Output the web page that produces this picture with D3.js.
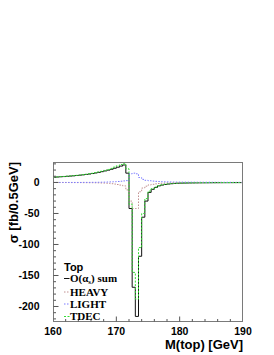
<!DOCTYPE html>
<html>
<head>
<meta charset="utf-8">
<script src="https://cdn.jsdelivr.net/npm/d3@7"></script>
<style>
  body { margin: 0; background: #fff; }
  svg { display: block; }
</style>
</head>
<body>
<div id="chart"></div>
<script>
// bins of 0.5 GeV from 160 to 190
const binLow = 160;
const binWidth = 0.5;

const sumVals = [8.5, 8.8, 9.2, 9.5, 9.9, 10.3, 10.7, 11.2, 11.7, 12.3,
  12.9, 13.6, 14.4, 15.3, 16.3, 17.4, 18.6, 19.9, 21.3, 22.9,
  24.6, 26.4, 28.2, 15, -42, -169, -216, -119, -56, -30,
  -16, -11, -8, -5.5, -4.2, -3.2, -2.5, -2.0, -1.6, -1.3,
  -1.1, -0.95, -0.85, -0.75, -0.7, -0.62, -0.56, -0.5, -0.46, -0.42,
  -0.38, -0.35, -0.32, -0.3, -0.28, -0.26, -0.24, -0.22, -0.2, -0.19];

const heavyVals = [-0.1, -0.1, -0.1, -0.1, -0.1, -0.2, -0.2, -0.2, -0.2, -0.3,
  -0.3, -0.4, -0.4, -0.5, -0.6, -0.8, -1.0, -1.4, -2.0, -2.6,
  -3.3, -4.2, -5.5, -12, -30, -42, -42, -15, -9, -6,
  -4, -3, -2.2, -1.7, -1.3, -1.0, -0.8, -0.65, -0.55, -0.45,
  -0.4, -0.35, -0.3, -0.27, -0.24, -0.22, -0.2, -0.18, -0.16, -0.15,
  -0.14, -0.13, -0.12, -0.11, -0.1, -0.1, -0.09, -0.09, -0.08, -0.08];

const lightVals = [0, 0, 0, 0, 0, 0, 0, 0, 0, 0.1,
  0.1, 0.1, 0.2, 0.2, 0.3, 0.4, 0.5, 0.7, 0.9, 1.2,
  1.6, 2.0, 2.5, 3, 14, 15, 14, 8, 5, 3.5,
  2.8, 2.2, 1.8, 1.5, 1.2, 1.0, 0.9, 0.8, 0.7, 0.6,
  0.55, 0.5, 0.45, 0.42, 0.4, 0.37, 0.35, 0.33, 0.31, 0.3,
  0.28, 0.27, 0.26, 0.25, 0.24, 0.23, 0.22, 0.21, 0.2, 0.2];

const tdecVals = [8.7, 9.0, 9.4, 9.7, 10.1, 10.5, 11.0, 11.5, 12.0, 12.6,
  13.2, 14.0, 14.8, 15.8, 16.9, 18.1, 19.5, 21.0, 22.7, 24.7,
  26.9, 29.0, 31.0, 22, -35, -145, -188, -105, -50, -26,
  -14, -10, -7.4, -5.0, -3.8, -2.9, -2.3, -1.8, -1.5, -1.2,
  -1.0, -0.85, -0.75, -0.68, -0.6, -0.55, -0.5, -0.45, -0.42, -0.38,
  -0.35, -0.32, -0.3, -0.28, -0.26, -0.24, -0.22, -0.21, -0.2, -0.19];

const xTicks = [160, 170, 180, 190];
const yTicks = [-200, -150, -100, -50, 0];

const series = [
  { name: "sum", vals: sumVals, color: "#111111", dash: null },
  { name: "HEAVY", vals: heavyVals, color: "#c09090", dash: "1.5,1.5" },
  { name: "LIGHT", vals: lightVals, color: "#7b7bff", dash: "1.5,1.5" },
  { name: "TDEC", vals: tdecVals, color: "#33dd33", dash: "2,1.5" }
];

const width = 274;
const height = 355;
const plot = { left: 53, right: 243, top: 162, bottom: 322 };

const svg = d3.select("#chart")
  .append("svg")
  .attr("width", width)
  .attr("height", height);

const x = d3.scaleLinear().domain([160, 190]).range([plot.left, plot.right]);
const y = d3.scaleLinear().domain([-225, 33]).range([plot.bottom, plot.top]);

// histogram outline
const stepLine = d3.line()
  .x(d => x(d[0]))
  .y(d => y(d[1]))
  .curve(d3.curveStepAfter);

function histPoints(vals) {
  const pts = vals.map((v, i) => [binLow + i * binWidth, v]);
  pts.push([binLow + vals.length * binWidth, vals[vals.length - 1]]);
  return pts;
}

svg.append("clipPath").attr("id", "clip")
  .append("rect")
  .attr("x", plot.left).attr("y", plot.top)
  .attr("width", plot.right - plot.left).attr("height", plot.bottom - plot.top);

const g = svg.append("g").attr("clip-path", "url(#clip)");

series.forEach(s => {
  g.append("path")
    .attr("d", stepLine(histPoints(s.vals)))
    .attr("fill", "none")
    .attr("stroke", s.color)
    .attr("stroke-width", 1)
    .attr("stroke-dasharray", s.dash);
});

// frame
svg.append("rect")
  .attr("x", plot.left + 0.5).attr("y", plot.top + 0.5)
  .attr("width", plot.right - plot.left - 1).attr("height", plot.bottom - plot.top - 1)
  .attr("fill", "none")
  .attr("stroke", "#7a7a7a")
  .attr("stroke-width", 1);

// ticks inside the frame, ROOT style
const xAx = svg.append("g").attr("transform", `translate(0,${plot.bottom - 0.5})`);
xAx.selectAll("line")
  .data(d3.range(162, 190, 2))
  .join("line")
  .attr("x1", d => x(d)).attr("x2", d => x(d))
  .attr("y1", 0)
  .attr("y2", d => (d % 10 === 0 ? -5 : -2.5))
  .attr("stroke", "#555");

svg.append("g")
  .selectAll("text")
  .data(xTicks)
  .join("text")
  .attr("x", d => x(d))
  .attr("y", 335)
  .attr("text-anchor", "middle")
  .attr("font-family", "Liberation Sans, Arial, sans-serif")
  .attr("font-weight", "bold")
  .attr("font-size", "10.5px")
  .text(d => d);

const yAx = svg.append("g").attr("transform", `translate(${plot.left + 0.5},0)`);
yAx.selectAll("line")
  .data(d3.range(-220, 31, 10))
  .join("line")
  .attr("y1", d => y(d)).attr("y2", d => y(d))
  .attr("x1", 0)
  .attr("x2", d => (d % 50 === 0 ? 5 : 2.5))
  .attr("stroke", "#555");

svg.append("g")
  .selectAll("text")
  .data(yTicks)
  .join("text")
  .attr("x", 39.5)
  .attr("y", d => y(d) + 4)
  .attr("text-anchor", "end")
  .attr("font-family", "Liberation Sans, Arial, sans-serif")
  .attr("font-weight", "bold")
  .attr("font-size", "10.5px")
  .text(d => d);

// axis titles
svg.append("text")
  .attr("x", plot.right)
  .attr("y", 348.5)
  .attr("text-anchor", "end")
  .attr("font-family", "Liberation Sans, Arial, sans-serif")
  .attr("font-weight", "bold")
  .attr("font-size", "13px")
  .text("M(top) [GeV]");

svg.append("text")
  .attr("transform", `translate(18,${plot.top}) rotate(-90)`)
  .attr("text-anchor", "end")
  .attr("font-family", "Liberation Sans, Arial, sans-serif")
  .attr("font-weight", "bold")
  .attr("font-size", "13px")
  .text("σ [fb/0.5GeV]");

// legend
const legend = svg.append("g");
legend.append("text")
  .attr("x", 64)
  .attr("y", 270.5)
  .attr("font-family", "Liberation Sans, Arial, sans-serif")
  .attr("font-weight", "bold")
  .attr("font-size", "11px")
  .text("Top");

const legendRows = [
  { s: series[0], y: 282 },
  { s: series[1], y: 295.5 },
  { s: series[2], y: 307.5 },
  { s: series[3], y: 320 }
];

legendRows.forEach(r => {
  legend.append("line")
    .attr("x1", 64).attr("x2", 69.5)
    .attr("y1", r.y - 3.5).attr("y2", r.y - 3.5)
    .attr("stroke", r.s.color)
    .attr("stroke-width", 1)
    .attr("stroke-dasharray", r.s.dash);
  const t = legend.append("text")
    .attr("x", 70)
    .attr("y", r.y)
    .attr("font-family", "Liberation Serif, Times New Roman, serif")
    .attr("font-weight", "bold")
    .attr("font-size", "11px");
  if (r.s.name === "sum") {
    t.append("tspan").text("O(α");
    t.append("tspan").attr("font-size", "7px").attr("dy", 2).text("s");
    t.append("tspan").attr("dy", -2).text(") sum");
  } else {
    t.text(r.s.name);
  }
});
</script>
</body>
</html>
